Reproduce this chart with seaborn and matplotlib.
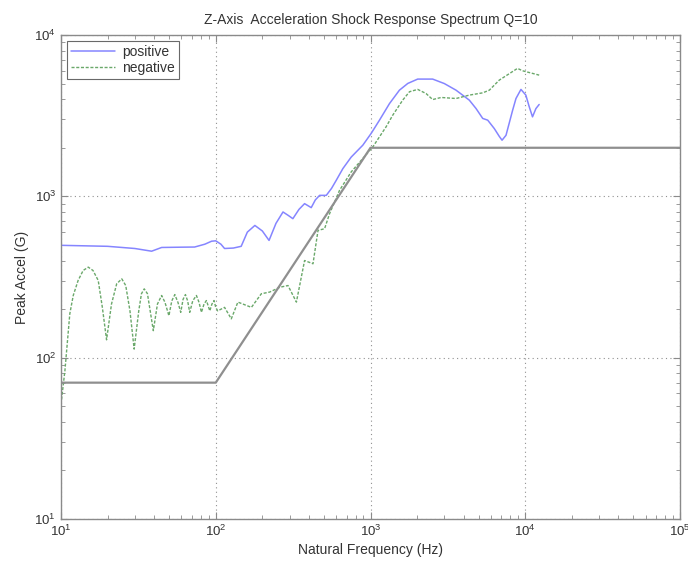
import numpy as np
import pandas as pd
import matplotlib
matplotlib.use("Agg")
import matplotlib.pyplot as plt
import seaborn as sns
from matplotlib.ticker import LogLocator, NullFormatter

# ---- data ----
pos_freq = [10, 20, 30, 38.5, 44.7, 60, 73, 85, 94, 100, 108, 114, 130, 146, 160, 179,
            200, 221, 245, 272, 295, 315, 345, 375, 414, 440, 469, 518, 560, 601, 663,
            750, 849, 892, 1012, 1143, 1327, 1538, 1742, 2018, 2522, 3000, 3570, 4350,
            4810, 5310, 5720, 6310, 6800, 7080, 7510, 8290, 8710, 9380, 10090, 10600,
            11140, 11720, 12300]
pos_accel = [497, 490, 475, 457, 482, 484, 485, 505, 527, 530, 505, 475, 478, 490, 600,
             660, 610, 533, 680, 800, 760, 727, 830, 901, 851, 950, 1014, 1014, 1120,
             1258, 1486, 1750, 1977, 2075, 2462, 2966, 3760, 4550, 5010, 5330, 5330,
             5000, 4550, 3947, 3500, 3040, 2966, 2630, 2350, 2228, 2390, 3420, 4040,
             4600, 4240, 3600, 3110, 3500, 3710]

neg_freq = [10, 10.6, 11.4, 12.0, 12.9, 13.9, 15.0, 16.1, 17.4, 18.5, 19.7, 21.2, 22.9,
            24.7, 26.2, 27.9, 29.7, 31.8, 33.1, 34.5, 36.2, 39.5, 42, 44.7, 47, 49.8,
            52, 54.4, 57, 59.4, 61.5, 63.7, 65.8, 67.9, 71, 75, 78, 80.8, 84, 87, 89.3,
            91.5, 94.5, 97.5, 100, 103, 114, 126, 139, 170, 197, 223, 259, 293, 332,
            375, 425, 458, 505, 544, 631, 750, 1035, 1262, 1394, 1615, 1786, 2018,
            2284, 2522, 2860, 3570, 4350, 5310, 5860, 6790, 8910, 9610, 12300]
neg_accel = [51.5, 83, 187, 243, 301, 347, 364, 347, 301, 205, 129, 215, 287,
             308, 280, 195, 113, 195, 249, 267, 249, 147, 215, 243, 220, 182,
             225, 246, 220, 191, 230, 246, 225, 191, 225, 243, 220, 191, 215, 226, 210,
             195, 215, 226, 205, 195, 205, 174, 221, 205, 249, 255, 273, 280, 221,
             400, 382, 615, 630, 781, 1090, 1416, 2025, 2700, 3190, 3947, 4450, 4600,
             4340, 3980, 4100, 4040, 4240, 4380, 4550, 5250, 6210, 6000, 5640]

spec_freq = [10, 100, 1000, 100000]
spec_accel = [70, 70, 2000, 2000]

series_names = ["positive", "negative"]
title = "Z-Axis  Acceleration Shock Response Spectrum Q=10"
xlabel = "Natural Frequency (Hz)"
ylabel = "Peak Accel (G)"

df = pd.concat([
    pd.DataFrame({"freq": pos_freq, "accel": pos_accel, "series": series_names[0]}),
    pd.DataFrame({"freq": neg_freq, "accel": neg_accel, "series": series_names[1]}),
])
spec = pd.DataFrame({"freq": spec_freq, "accel": spec_accel})

sns.set_style("ticks")
plt.rcParams["font.family"] = ["Liberation Sans", "DejaVu Sans"]

fig = plt.figure(figsize=(6.88, 5.65), dpi=100)
ax = fig.add_axes([61 / 688, 1 - 519 / 565, (680 - 61) / 688, (519 - 35) / 565])

sns.lineplot(data=df[df.series == "positive"], x="freq", y="accel", ax=ax,
             color="#8585ff", linewidth=1.1, label="positive", sort=False)
sns.lineplot(data=df[df.series == "negative"], x="freq", y="accel", ax=ax,
             color="#6aa86a", linewidth=1.0, linestyle=(0, (2.2, 1.2)),
             label="negative", sort=False)
sns.lineplot(data=spec, x="freq", y="accel", ax=ax, color="#8f8f8f",
             linewidth=1.6, sort=False, legend=False)

ax.set_xscale("log")
ax.set_yscale("log")
ax.set_xlim(10, 1e5)
ax.set_ylim(10, 1e4)

ax.xaxis.set_major_locator(LogLocator(base=10, numticks=10))
ax.yaxis.set_major_locator(LogLocator(base=10, numticks=10))
ax.xaxis.set_minor_locator(LogLocator(base=10, subs=np.arange(2, 10), numticks=20))
ax.yaxis.set_minor_locator(LogLocator(base=10, subs=np.arange(2, 10), numticks=20))
ax.xaxis.set_minor_formatter(NullFormatter())
ax.yaxis.set_minor_formatter(NullFormatter())

ax.grid(True, which="major", linestyle=(0, (1, 3)), color="#909090", linewidth=0.8)
ax.tick_params(which="both", direction="in", top=True, right=True,
               colors="#8a8a8a", labelcolor="#333333", labelsize=9.5)
ax.tick_params(which="major", length=5)
ax.tick_params(which="minor", length=3)
for s in ax.spines.values():
    s.set_color("#8a8a8a")
    s.set_linewidth(1.0)

ax.set_title(title, fontsize=10, color="#333333", pad=8)
ax.set_xlabel(xlabel, fontsize=10, color="#333333", labelpad=3)
ax.set_ylabel(ylabel, fontsize=10, color="#333333", labelpad=4)

leg = ax.legend(loc="upper left", fontsize=10, frameon=True, fancybox=False,
                borderpad=0.3, handlelength=3.2, labelspacing=0.15,
                borderaxespad=0.4, handletextpad=0.5)
leg.get_frame().set_edgecolor("#444444")
leg.get_frame().set_linewidth(0.8)
for t in leg.get_texts():
    t.set_color("#333333")

fig.savefig("out.png", dpi=100)
